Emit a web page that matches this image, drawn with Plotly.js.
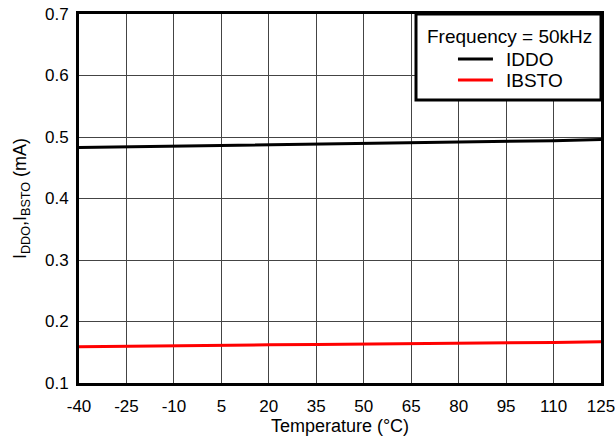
<!DOCTYPE html>
<html>
<head>
<meta charset="utf-8">
<script src="https://cdn.plot.ly/plotly-3.0.1.min.js"></script>
<style>html,body{margin:0;padding:0;background:#fff}#chart{width:616px;height:441px}</style>
</head>
<body>
<div id="chart"></div>
<script>
const temperature = [-40, -25, -10, 5, 20, 35, 50, 65, 80, 95, 110, 125];
const iddo = [0.483, 0.484, 0.485, 0.486, 0.487, 0.488, 0.489, 0.490, 0.492, 0.493, 0.494, 0.496];
const ibsto = [0.159, 0.160, 0.1605, 0.161, 0.162, 0.1625, 0.163, 0.164, 0.165, 0.1655, 0.166, 0.167];
const xTicks = [-40, -25, -10, 5, 20, 35, 50, 65, 80, 95, 110, 125];
const yTicks = [0.1, 0.2, 0.3, 0.4, 0.5, 0.6, 0.7];
const seriesNames = ['IDDO', 'IBSTO'];
const seriesColors = ['#000000', '#ff0000'];
const legendTitle = 'Frequency = 50kHz';

const fam = 'Liberation Sans, Arial, sans-serif';
const tickFont = {family: fam, size: 17, color: '#000'};
const titleFont = {family: fam, size: 18, color: '#000'};
const legFont = {family: fam, size: 19, color: '#000'};

// Legend drawn in paper coordinates (plot domain 0..1)
const legBox = {x0: 0.6456, x1: 1, y0: 0.767, y1: 1};
const legRowsY = [0.878, 0.821];
const shapes = [
  {type: 'rect', xref: 'paper', yref: 'paper', x0: legBox.x0, x1: legBox.x1, y0: legBox.y0, y1: legBox.y1,
   line: {color: '#000', width: 3}, fillcolor: '#fff', layer: 'above'}
];
const annotations = [
  {xref: 'paper', yref: 'paper', x: 0.825, y: 0.938, text: legendTitle, showarrow: false,
   xanchor: 'center', yanchor: 'middle', font: legFont}
];
seriesNames.forEach((n, i) => {
  shapes.push({type: 'line', xref: 'paper', yref: 'paper', x0: 0.726, x1: 0.793, y0: legRowsY[i], y1: legRowsY[i],
    line: {color: seriesColors[i], width: 3}, layer: 'above'});
  annotations.push({xref: 'paper', yref: 'paper', x: 0.814, y: legRowsY[i], text: n, showarrow: false,
    xanchor: 'left', yanchor: 'middle', font: legFont});
});

Plotly.newPlot('chart', [
  {x: temperature, y: iddo, name: seriesNames[0], mode: 'lines', line: {color: seriesColors[0], width: 3}},
  {x: temperature, y: ibsto, name: seriesNames[1], mode: 'lines', line: {color: seriesColors[1], width: 3}}
], {
  width: 616, height: 441,
  margin: {l: 79, r: 15, t: 14, b: 58, pad: 0},
  paper_bgcolor: '#fff', plot_bgcolor: '#fff',
  font: tickFont,
  showlegend: false,
  shapes: shapes,
  annotations: annotations,
  xaxis: {
    range: [-40, 125], tickvals: xTicks, ticktext: xTicks.map(String),
    showgrid: true, gridcolor: '#444', gridwidth: 1,
    showline: true, linecolor: '#000', linewidth: 3, mirror: true,
    ticks: '', zeroline: false, ticklabelstandoff: 6,
    title: {text: 'Temperature (°C)', font: titleFont, standoff: 2},
    tickfont: tickFont
  },
  yaxis: {
    range: [0.1, 0.7], tickvals: yTicks, ticktext: yTicks.map(v => v.toFixed(1)),
    showgrid: true, gridcolor: '#444', gridwidth: 1,
    showline: true, linecolor: '#000', linewidth: 3, mirror: true,
    ticks: '', zeroline: false, ticklabelstandoff: 4,
    title: {text: 'I<sub>DDO</sub>,I<sub>BSTO</sub> (mA)', font: titleFont, standoff: 14},
    tickfont: tickFont
  }
}, {displayModeBar: false, staticPlot: true});
</script>
</body>
</html>
